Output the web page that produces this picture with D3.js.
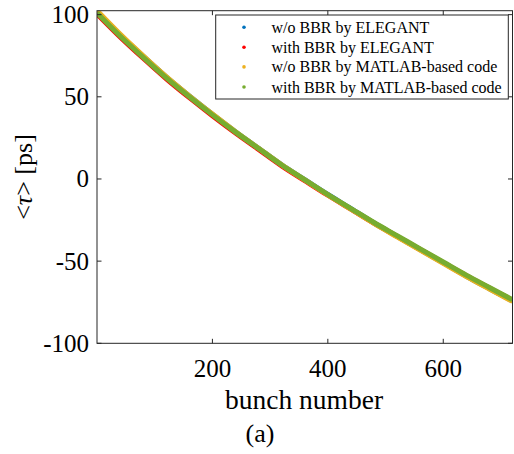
<!DOCTYPE html>
<html><head><meta charset="utf-8">
<script src="https://cdn.jsdelivr.net/npm/d3@7"></script>
<style>body{margin:0;background:#fff}svg{display:block}</style>
</head><body>
<svg id="c" width="514" height="454" font-family="'Liberation Serif', 'Times New Roman', Times, 'DejaVu Serif', serif"></svg>
<script>
// bunch numbers at which values were read
const bunches = [0,40,80,120,160,200,240,280,320,360,400,440,480,520,560,600,640,680,720];
// <tau> [ps] per series
const woBBR_ELEGANT   = [101.8,87.8,74.7,62.1,50.5,39.4,28.8,18.7,8.6,-0.4,-9.4,-18,-26.8,-34.9,-43,-51.1,-59.2,-66.8,-74.3];
const withBBR_ELEGANT = [100.5,86.5,73.5,61,49.5,38.5,28,18,8,-1,-9.9,-18.4,-26.9,-34.9,-42.9,-50.9,-58.8,-66.3,-73.8];
const woBBR_MATLAB    = [102.5,88.2,75,62.3,50.6,39.5,28.8,18.7,8.6,-0.6,-9.7,-18.3,-27,-35.2,-43.3,-51.4,-59.4,-67,-74.5];
const withBBR_MATLAB  = [101,87,74,61.5,50,39,28.5,18.5,8.5,-0.5,-9.5,-18,-26.5,-34.5,-42.5,-50.5,-58.5,-66,-73.5];
const seriesNames  = ["w/o BBR by ELEGANT","with BBR by ELEGANT","w/o BBR by MATLAB-based code","with BBR by MATLAB-based code"];
const seriesColors = ["#0072BD","#FF0000","#EDB120","#77AC30"];
const seriesValues = [woBBR_ELEGANT, withBBR_ELEGANT, woBBR_MATLAB, withBBR_MATLAB];
const xTicks = [200,400,600];
const yTicks = [-100,-50,0,50,100];

const FONT = "'Liberation Serif', 'Times New Roman', Times, 'DejaVu Serif', serif";
const svg = d3.select("#c");
const L=97, R=512.5, T=10.7, B=343.3;
const x = d3.scaleLinear().domain([0,720]).range([L,R]);
const y = d3.scaleLinear().domain([-100,102.4]).range([B,T]);
const axisColor="#262626";

svg.append("defs").append("clipPath").attr("id","clip")
  .append("rect").attr("x",L).attr("y",T).attr("width",R-L).attr("height",B-T);

const line = d3.line().x((d,i)=>x(bunches[i])).y(d=>y(d)).curve(d3.curveMonotoneX);
const g = svg.append("g").attr("clip-path","url(#clip)");
seriesValues.forEach((vals,k)=>{
  g.append("path").datum(vals).attr("d",line).attr("fill","none")
   .attr("stroke",seriesColors[k]).attr("stroke-width",5);
});

// axes (box with mirrored inward ticks)
const ax = svg.append("g").attr("stroke",axisColor).attr("stroke-width",1).attr("fill","none");
ax.append("rect").attr("x",L).attr("y",T).attr("width",R-L).attr("height",B-T);
xTicks.forEach(t=>{
  ax.append("line").attr("x1",x(t)).attr("x2",x(t)).attr("y1",B).attr("y2",B-4.5);
  ax.append("line").attr("x1",x(t)).attr("x2",x(t)).attr("y1",T).attr("y2",T+4.5);
});
yTicks.forEach(t=>{
  ax.append("line").attr("y1",y(t)).attr("y2",y(t)).attr("x1",L).attr("x2",L+4.5);
  ax.append("line").attr("y1",y(t)).attr("y2",y(t)).attr("x1",R).attr("x2",R-4.5);
});
const txt = (sel)=>sel.attr("font-family",FONT).attr("fill","#000");
svg.selectAll(".xt").data(xTicks).enter().append("text").call(txt)
  .attr("x",d=>x(d)).attr("y",377).attr("text-anchor","middle")
  .attr("font-size",25).text(d=>d);
svg.selectAll(".yt").data(yTicks).enter().append("text").call(txt)
  .attr("x",89).attr("y",d=>y(d)+8.5).attr("text-anchor","end")
  .attr("font-size",25).text(d=>d);

svg.append("text").call(txt).attr("x",304).attr("y",409).attr("text-anchor","middle")
  .attr("font-size",27.5).text("bunch number");
svg.append("text").call(txt).attr("x",260).attr("y",441.5).attr("text-anchor","middle")
  .attr("font-size",26).text("(a)");
const yl = svg.append("text").call(txt).attr("transform","translate(32,177) rotate(-90)")
  .attr("text-anchor","middle").attr("font-size",26);
yl.append("tspan").text("<");
yl.append("tspan").attr("font-style","italic").text("τ");
yl.append("tspan").text("> [ps]");

// legend
const lg = svg.append("g");
lg.append("rect").attr("x",215.7).attr("y",15).attr("width",292.6).attr("height",84)
  .attr("fill","#fff").attr("stroke",axisColor).attr("stroke-width",1);
const ly = [27.3,47.3,66.9,87];
seriesNames.forEach((n,k)=>{
  lg.append("circle").attr("cx",244).attr("cy",ly[k]).attr("r",1.8).attr("fill",seriesColors[k]);
  lg.append("text").call(txt).attr("x",271.5).attr("y",ly[k]+5.5).attr("font-size",16).text(n);
});
</script>
</body></html>
